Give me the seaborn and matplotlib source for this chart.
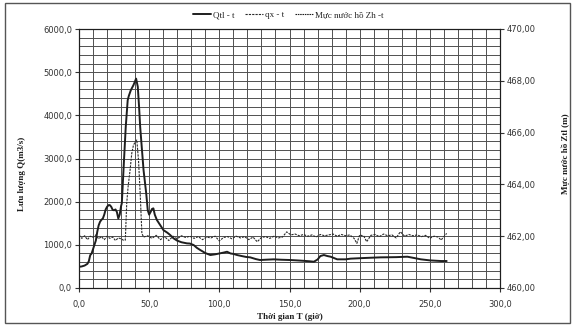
import matplotlib
matplotlib.use("Agg")
import matplotlib.pyplot as plt
from matplotlib.patches import Rectangle
from matplotlib.ticker import FuncFormatter, MultipleLocator
import numpy as np
import pandas as pd
import seaborn as sns

# Lưu lượng đến hồ Qtl (m3/s) theo thời gian (giờ)
t_qtl = [0, 2, 4, 6, 7, 8, 9, 10, 11, 12, 13, 14, 15, 16, 17, 18, 19, 20, 21, 22,
         23, 24, 25, 26, 27, 28, 29, 30, 30.5, 31.7, 33.3, 34.7, 35.5, 36.9, 38.8,
         40.7, 41.9, 42.8, 43.6, 46, 47.9, 49, 50, 51, 52, 53, 54, 55.5, 58, 60.2,
         63, 65, 67.4, 69.8, 73, 76.9, 79, 81.7, 84, 86.4, 90, 93.6, 97, 100, 103,
         105.5, 108, 110, 112.6, 116, 119, 122, 126, 129, 133, 138.8, 144, 150.7,
         155, 160, 164, 167.4, 170, 172, 174.5, 177, 179.3, 182, 184, 190, 193.6,
         200, 207, 215, 220, 226, 234, 238, 243.6, 250, 257.9, 262]
q_tl = [490, 500, 520, 560, 620, 760, 800, 900, 1000, 1100, 1300, 1450, 1535, 1580,
        1610, 1700, 1820, 1880, 1920, 1920, 1880, 1810, 1800, 1820, 1760, 1610, 1700,
        1900, 1960, 2730, 3730, 4350, 4450, 4580, 4700, 4850, 4660, 4200, 3730, 2730,
        2190, 1800, 1700, 1760, 1830, 1845, 1700, 1575, 1450, 1340, 1280, 1227, 1150,
        1100, 1060, 1034, 1030, 995, 930, 880, 810, 764, 780, 800, 820, 840, 800, 790,
        764, 740, 720, 710, 670, 648, 655, 664, 655, 648, 640, 630, 620, 609, 660,
        740, 764, 740, 725, 690, 664, 664, 680, 690, 700, 710, 712, 715, 725, 700,
        664, 640, 625, 625]

# Lưu lượng xả qx (m3/s)
t_qx = [0, 2, 4, 6, 8, 10, 12, 14, 16, 18, 20, 22, 24, 26, 28, 30, 32, 33, 34, 35,
        36.4, 37.6, 38.8, 40, 41.2, 42.4, 43.6, 44.8, 46, 49, 52, 55, 58, 61, 64, 67,
        70, 73, 76, 79, 82, 85, 88, 91, 94, 97, 100, 103, 106, 109, 112, 115, 118,
        121, 124, 127, 130, 133, 136, 139, 142, 145, 148, 151, 154, 157, 160, 163,
        166, 169, 172, 175, 178, 181, 184, 187, 190, 193, 196, 198, 200, 203, 205,
        208, 211, 214, 217, 220, 223, 226, 229, 232, 235, 238, 241, 244, 247, 250,
        253, 256, 258, 260, 262]
q_x = [1230, 1150, 1210, 1120, 1200, 1170, 1230, 1140, 1190, 1120, 1200, 1150, 1180,
       1100, 1160, 1140, 1100, 1110, 1960, 2350, 2730, 3120, 3310, 3380, 3430, 2960,
       2190, 1265, 1180, 1210, 1150, 1220, 1120, 1190, 1100, 1200, 1140, 1210, 1170,
       1200, 1150, 1190, 1120, 1180, 1160, 1200, 1090, 1170, 1190, 1140, 1200, 1160,
       1190, 1120, 1180, 1070, 1170, 1190, 1150, 1200, 1160, 1180, 1300, 1230, 1250,
       1210, 1240, 1200, 1230, 1180, 1240, 1210, 1230, 1250, 1200, 1240, 1210, 1230,
       1150, 1034, 1230, 1200, 1072, 1220, 1240, 1190, 1250, 1210, 1230, 1160, 1303,
       1200, 1240, 1210, 1230, 1190, 1220, 1150, 1200, 1180, 1110, 1190, 1265]

# Mực nước hồ Zh (m)
t_zh = []
z_h = []

df_qtl = pd.DataFrame({"t": t_qtl, "Q": q_tl})
df_qx = pd.DataFrame({"t": t_qx, "Q": q_x})
df_zh = pd.DataFrame({"t": pd.Series(t_zh, dtype=float), "Z": pd.Series(z_h, dtype=float)})

sns.set_theme(style="white")
plt.rcParams["font.family"] = ["DejaVu Sans"]

fig = plt.figure(figsize=(5.75, 3.26), dpi=100)
ax = fig.add_axes([79 / 575, 1 - 288 / 326, 421 / 575, 259 / 326])
ax2 = ax.twinx()

ink = "#1e1e1e"
sns.lineplot(data=df_qtl, x="t", y="Q", ax=ax, color=ink, lw=1.4, label="Qtl - t",
             legend=False)
sns.lineplot(data=df_qx, x="t", y="Q", ax=ax, color="#2a2a2a", lw=0.8, label="qx - t",
             legend=False, linestyle=(0, (2.0, 1.0)))
sns.lineplot(data=df_zh, x="t", y="Z", ax=ax2, color=ink, lw=0.8,
             label="Mực nước hồ Zh -t", legend=False, linestyle=(0, (1.4, 0.7)))

ax.set_xlim(0, 300)
ax.set_ylim(0, 6000)
ax2.set_ylim(460, 470)

ax.xaxis.set_major_locator(MultipleLocator(50))
ax.xaxis.set_minor_locator(MultipleLocator(10))
ax.yaxis.set_major_locator(MultipleLocator(1000))
ax.yaxis.set_minor_locator(MultipleLocator(200))
ax2.yaxis.set_major_locator(MultipleLocator(2))

ax.grid(True, which="both", color="#505050", lw=0.7)
ax.set_axisbelow(True)

ax.xaxis.set_major_formatter(FuncFormatter(lambda v, p: f"{v:.1f}".replace(".", ",")))
ax.yaxis.set_major_formatter(FuncFormatter(lambda v, p: f"{v:.1f}".replace(".", ",")))
ax2.yaxis.set_major_formatter(FuncFormatter(lambda v, p: f"{v:.2f}".replace(".", ",")))

tick_font = dict(labelsize=6, colors="#333333")
ax.tick_params(axis="both", which="major", direction="out", length=3, width=0.8,
               pad=2, **tick_font)
ax.tick_params(axis="both", which="minor", length=0)
ax2.tick_params(axis="y", which="major", direction="out", length=3, width=0.8,
                pad=2, **tick_font)
ax.tick_params(axis="x", which="major", pad=6)
ax.tick_params(axis="x", which="major", bottom=True)
ax.tick_params(axis="y", which="major", left=True)
ax2.tick_params(axis="y", which="major", right=True)

for a in (ax, ax2):
    for s in a.spines.values():
        s.set_color(ink)
        s.set_linewidth(0.8)

label_font = dict(family="Liberation Serif", fontweight="bold", fontsize=6.5, color=ink)
ax.set_xlabel("Thời gian T (giờ)", **label_font)
ax.xaxis.set_label_coords(0.5, -0.095)
ax.set_ylabel("Lưu lượng Q(m3/s)", **label_font)
ax.yaxis.set_label_coords(-0.125, 0.44)
ax2.set_ylabel("Mực nước hồ Ztl (m)", **label_font)
ax2.yaxis.set_label_coords(1.145, 0.52)

h1, l1 = ax.get_legend_handles_labels()
h2, l2 = ax2.get_legend_handles_labels()
fig.legend(h1 + h2, l1 + l2, loc="center", bbox_to_anchor=(288 / 575, 1 - 15 / 326),
           ncol=3, frameon=False, handlelength=2.0, handletextpad=0.2,
           columnspacing=1.2, prop=dict(family="Liberation Serif", size=6.5))

fig.add_artist(Rectangle((5 / 575, 3 / 326), 565 / 575, 320 / 326,
                         transform=fig.transFigure, fill=False,
                         edgecolor="#555555", lw=1.0))

fig.savefig("out.png", dpi=100, facecolor="white")
